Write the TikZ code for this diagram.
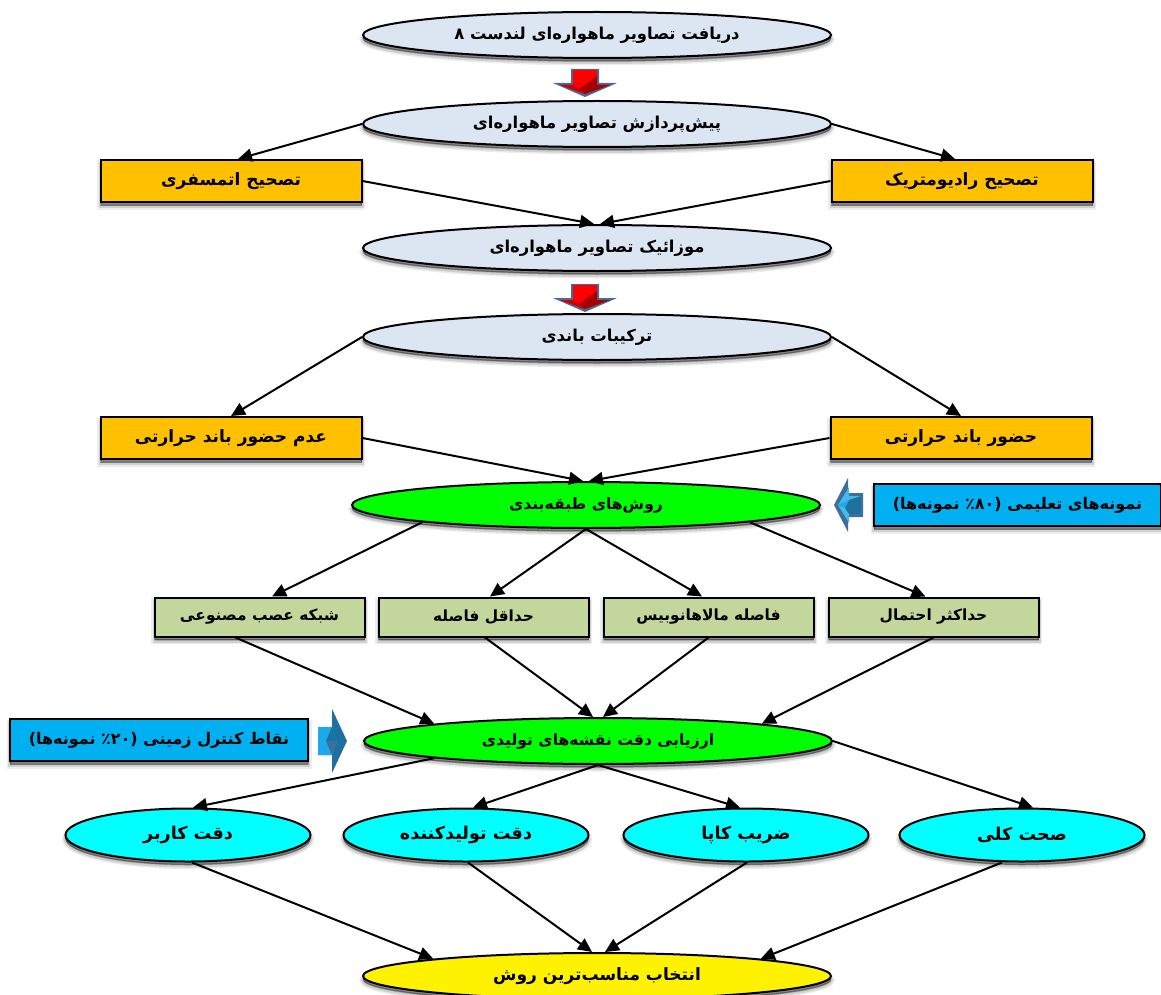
\documentclass[tikz,border=0pt]{standalone}
\usepackage{fontspec}
\usetikzlibrary{shapes.geometric,shadows,arrows.meta}
\TeXXeTstate=1
\newfontfamily\fa[Script=Arabic]{DejaVu Sans}
\newcommand{\fat}[1]{\beginR #1\endR}
\newcommand{\fasize}[1]{\fa\bfseries\fontsize{#1}{#1}\selectfont}
\definecolor{paleblue}{HTML}{DCE6F2}
\definecolor{amber}{HTML}{FFC000}
\definecolor{palegreen}{HTML}{C3D69B}
\definecolor{skyb}{HTML}{00B0F0}
\definecolor{vivid}{HTML}{00FF00}
\definecolor{aqua}{HTML}{00FFFF}
\definecolor{steel}{HTML}{3D6E9E}
\definecolor{steeldk}{HTML}{1F6F9F}
\definecolor{brightb}{HTML}{1BA9EA}
\definecolor{lightb}{HTML}{45B9E8}
\tikzset{
  x=1pt,y=-1pt,
  shad/.style={
    drop shadow={shadow xshift=0pt,shadow yshift=-4pt,fill=black,draw=black,line width=7pt,opacity=.07},
    drop shadow={shadow xshift=0pt,shadow yshift=-4pt,fill=black,draw=black,line width=4pt,opacity=.12},
    drop shadow={shadow xshift=0pt,shadow yshift=-3pt,fill=black,draw=black,line width=1pt,opacity=.3}},
  base/.style={draw=black,line width=2pt,shad,inner sep=0pt,text=black,font=\fasize{16.4}},
  oval/.style={base,ellipse,minimum width=468pt,minimum height=46pt},
  stage/.style={oval,fill=paleblue},
  greenoval/.style={oval,fill=vivid,font=\fasize{15.6}},
  yellowoval/.style={oval,fill=yellow,font=\fasize{17}},
  metric/.style={base,ellipse,fill=aqua,minimum width=245pt,minimum height=53pt,font=\fasize{17.6}},
  fixbox/.style={base,rectangle,fill=amber,minimum width=261pt,minimum height=42pt,font=\fasize{17}},
  algobox/.style={base,rectangle,fill=palegreen,minimum width=210pt,minimum height=39pt,font=\fasize{15.4}},
  samplebox/.style={base,rectangle,fill=skyb,minimum height=42pt,font=\fasize{16}},
  link/.style={draw=black,line width=2pt,-{Triangle[length=14pt,width=13pt]}},
  redarrow/.pic={
    \fill[steel] (-14,0)--(14,0)--(14,14)--(32,14)--(0,28)--(-32,14)--(-14,14)--cycle;
    \fill[red] (-12,1)--(12,1)--(12,16)--(25,16)--(0,25)--(-25,16)--(-12,16)--cycle;
    \fill[red!65!black] (12,7)--(12,16)--(25,16)--(0,25)--(-6,20)--cycle;
    \fill[red!80!black] (-12,16)--(-25,16)--(0,25)--(-6,20)--cycle;
  },
  leftblock/.pic={
    \fill[steel] (0,-12)--(0,-27)--(-14,0)--(0,27)--(0,12)--(15,12)--(15,-12)--cycle;
    \fill[lightb] (1,-9)--(1,-18)--(-10,0)--(1,18)--(1,9)--(13,9)--(13,-9)--cycle;
    \fill[steeldk] (1,-5)--(13,-9)--(13,9)--(1,9)--(-3,3)--cycle;
    \fill[brightb] (-10,0)--(1,-5)--(-3,3)--cycle;
  },
  rightblock/.pic={
    \fill[steeldk] (0,-14)--(0,-32)--(15,0)--(0,32)--(0,14)--(-14,14)--(-14,-14)--cycle;
    \fill[brightb] (-14,-14)--(0,-14)--(5,0)--(0,14)--(-14,14)--cycle;
    \fill[steel] (-6,0)--(5,0)--(0,14)--cycle;
    \fill[brightb!70!black] (0,-14)--(5,0)--(-6,0)--cycle;
  },
}
\begin{document}
\begin{tikzpicture}
\useasboundingbox (0,0) rectangle (1161,995);
% block arrows
\pic at (585,69) {redarrow};
\pic at (585,284) {redarrow};
\pic at (848,505) {leftblock};
\pic at (332,741) {rightblock};
% nodes
\node[stage] (receive) at (597,35) {\fat{دریافت تصاویر ماهواره‌ای لندست ۸}};
\node[stage] (prep) at (597,124) {\fat{پیش‌پردازش تصاویر ماهواره‌ای}};
\node[fixbox] (atm) at (231,181) {\fat{تصحیح اتمسفری}};
\node[fixbox] (rad) at (962,181) {\fat{تصحیح رادیومتریک}};
\node[stage] (mosaic) at (597,248) {\fat{موزائیک تصاویر ماهواره‌ای}};
\node[stage] (bands) at (597,337) {\fat{ترکیبات باندی}};
\node[fixbox] (nothermal) at (231,438) {\fat{عدم حضور باند حرارتی}};
\node[fixbox] (thermal) at (961,438) {\fat{حضور باند حرارتی}};
\node[greenoval] (classify) at (586,505) {\fat{روش‌های طبقه‌بندی}};
\node[samplebox,minimum width=287pt] (train) at (1017.5,505) {\fat{نمونه‌های تعلیمی (\beginL ۸۰\endL٪ نمونه‌ها)}};
\node[algobox] (ann) at (259.5,617) {\fat{شبکه عصب مصنوعی}};
\node[algobox] (mind) at (483.5,617) {\fat{حداقل فاصله}};
\node[algobox] (maha) at (708.5,617) {\fat{فاصله مالاهانوبیس}};
\node[algobox] (maxl) at (933.5,617) {\fat{حداکثر احتمال}};
\node[greenoval] (assess) at (598,741) {\fat{ارزیابی دقت نقشه‌های تولیدی}};
\node[samplebox,minimum width=298pt] (ground) at (159,740) {\fat{نقاط کنترل زمینی (\beginL ۲۰\endL٪ نمونه‌ها)}};
\node[metric] (user) at (188,835) {\fat{دقت کاربر}};
\node[metric] (prod) at (466,835) {\fat{دقت تولیدکننده}};
\node[metric] (kappa) at (746,835) {\fat{ضریب کاپا}};
\node[metric] (overall) at (1022,835) {\fat{صحت کلی}};
\node[yellowoval] (best) at (597,976) {\fat{انتخاب مناسب‌ترین روش}};
% connectors
\draw[link] (prep.west) -- ([xshift=7pt]atm.north);
\draw[link] (prep.east) -- ([xshift=-7pt]rad.north);
\draw[link] (atm.east) -- ([xshift=-3pt]mosaic.north);
\draw[link] (rad.west) -- ([xshift=3pt]mosaic.north);
\draw[link] (bands.west) -- (nothermal.north);
\draw[link] (bands.east) -- (thermal.north);
\draw[link] (nothermal.east) -- ([xshift=-3pt]classify.north);
\draw[link] (thermal.west) -- ([xshift=3pt]classify.north);
\draw[link] (classify.186) -- ([xshift=12.5pt]ann.north);
\draw[link] (classify.south) -- ([xshift=6.5pt]mind.north);
\draw[link] (classify.south) -- ([xshift=-6.5pt]maha.north);
\draw[link] (classify.354) -- ([xshift=-8pt]maxl.north);
\draw[link] ([xshift=-24pt]ann.south) -- (assess.174);
\draw[link] ([xshift=1.5pt]mind.south) -- ([xshift=-5pt]assess.north);
\draw[link] (maha.south) -- ([xshift=5pt]assess.north);
\draw[link] (maxl.south) -- (assess.6);
\draw[link] (assess.186) -- ([xshift=5pt]user.north);
\draw[link] (assess.south) -- ([xshift=7pt]prod.north);
\draw[link] (assess.south) -- ([xshift=-6pt]kappa.north);
\draw[link] (assess.east) -- ([xshift=11pt]overall.north);
\draw[link] ([xshift=4pt]user.south) -- (best.174);
\draw[link] ([xshift=2pt]prod.south) -- ([xshift=-5pt]best.north);
\draw[link] ([xshift=1pt]kappa.south) -- ([xshift=8pt]best.north);
\draw[link] ([xshift=-20pt]overall.south) -- (best.6);
\end{tikzpicture}
\end{document}
